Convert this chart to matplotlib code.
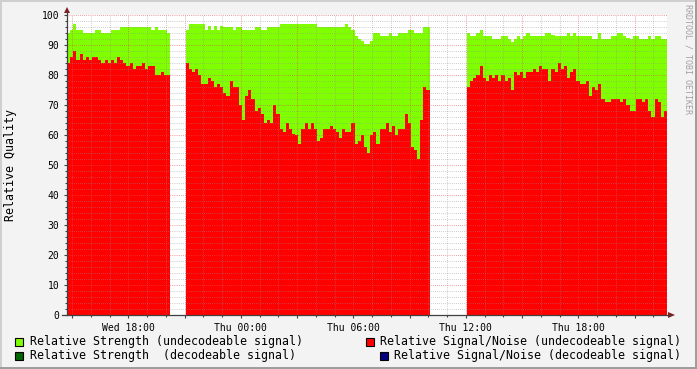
import numpy as np
import matplotlib
matplotlib.use("Agg")
import matplotlib.pyplot as plt
from matplotlib.patches import Rectangle, Polygon
from matplotlib.lines import Line2D
from matplotlib.ticker import FixedLocator, MultipleLocator

# ---------------- data (10-minute steps) ----------------
STEP_MIN = 10
TOTAL_MIN = 1920          # 32 hours shown
WED18_OFFSET = 196        # minutes from chart start to "Wed 18:00"
SEG_STARTS = [0, 38, 128] # start step index of each data segment

seg1_strength = [94, 95, 97, 95, 95, 94, 94, 94, 94, 95, 95, 94, 94, 94, 95, 95, 95,
                 96, 96, 96, 96, 96, 96, 96, 96, 96, 96, 95, 96, 95, 95, 95, 94]
seg1_snr = [84, 86, 88, 85, 87, 85, 86, 85, 86, 86, 85, 84, 85, 84, 85, 84, 86,
            85, 84, 83, 84, 82, 83, 83, 84, 82, 83, 83, 80, 80, 81, 80, 80]

seg2_strength = [95, 97, 97, 97, 97, 97, 95, 96.5, 95, 96.5, 95, 96.5, 96, 96, 96, 95,
                 96, 96, 95, 95, 95, 95, 96, 96, 95, 95, 96, 96, 96, 96, 97, 97,
                 97, 97, 97, 97, 97, 97, 97, 97, 97, 97, 96, 96, 96, 96, 96, 96,
                 96, 96, 96, 97, 96, 95, 93, 92, 91.5, 90.5, 90.5, 91.5, 94, 94,
                 93, 93, 93, 94, 93, 93, 94, 94, 94, 95, 95, 94, 94, 94, 96, 96]
seg2_snr = [84, 82, 81, 82, 80, 77, 77, 79, 78, 76, 77, 76, 74, 73, 78, 76,
            76, 70, 65, 73, 75, 72, 68, 69, 67, 64, 65, 64, 70, 67, 62, 61,
            64, 62, 60.5, 60, 57, 62, 64, 62, 64, 62, 58, 59, 62, 62, 63, 62,
            61, 59, 62, 61, 61, 64, 57, 58, 60, 56, 54, 60, 61, 57,
            62, 62, 64, 61, 63, 60, 62, 62, 67, 64, 56, 55, 52, 65, 76, 75]

seg3_strength = [94, 93, 93, 94, 95, 93, 93, 93, 92, 92, 92, 93, 93, 92, 91, 92,
                 93, 92, 93, 94, 93, 93, 93, 93, 93, 94, 94, 93.5, 93, 93, 93, 93,
                 94, 93, 94, 93, 93, 93, 93, 93, 92, 92, 94, 92, 92, 92, 93, 93,
                 94, 94, 93, 92.5, 92, 93, 93, 92, 92, 92, 93, 92, 93, 93, 92, 92]
seg3_snr = [76, 78, 79, 80, 83, 79, 78, 80, 79, 80, 78, 80, 78, 79, 75, 81,
            80, 81, 79, 81, 81, 82, 81, 83, 82, 82, 78, 82, 81, 84, 82, 83,
            79, 81, 82, 78, 77, 77, 78, 73, 76, 75, 77, 72, 71, 71, 72, 72,
            72, 71, 72, 70, 68, 68, 72, 72, 71, 72, 68, 66, 72, 71, 66, 68]

strength_segments = [seg1_strength, seg2_strength, seg3_strength]
snr_segments = [seg1_snr, seg2_snr, seg3_snr]

x_tick_labels = ["Wed 18:00", "Thu 00:00", "Thu 06:00", "Thu 12:00", "Thu 18:00"]
legend_labels = ["Relative Strength (undecodeable signal)",
                 "Relative Strength  (decodeable signal)",
                 "Relative Signal/Noise (undecodeable signal)",
                 "Relative Signal/Noise (decodeable signal)"]
legend_colors = ["#7FFF00", "#006400", "#FF0000", "#000080"]

# ---------------- figure ----------------
W, H = 697, 369
BG = "#F3F3F3"
fig = plt.figure(figsize=(W / 100, H / 100), dpi=100, facecolor=BG)

def fx(px):
    return px / W

def fy(py):
    return 1 - py / H

ax = fig.add_axes([fx(67), fy(315), 600 / W, 300 / H])
ax.set_facecolor("white")
ax.set_xlim(0, TOTAL_MIN)
ax.set_ylim(0, 100)

for start, st, sn in zip(SEG_STARTS, strength_segments, snr_segments):
    edges = (start + np.arange(len(st) + 1)) * STEP_MIN
    ax.stairs(st, edges, fill=True, color="#7FFF00", linewidth=0, baseline=0, zorder=1)
    ax.stairs(sn, edges, fill=True, color="#FF0000", linewidth=0, baseline=0, zorder=1.1)

for s in ax.spines.values():
    s.set_visible(False)

# ticks
first_major = WED18_OFFSET % 180
major_x = np.arange(first_major, TOTAL_MIN + 1, 180)
minor_x = np.arange(WED18_OFFSET % 60, TOTAL_MIN + 1, 60)
label_map = {WED18_OFFSET + 360 * i: lab for i, lab in enumerate(x_tick_labels)}
ax.xaxis.set_major_locator(FixedLocator(major_x))
ax.xaxis.set_minor_locator(FixedLocator(minor_x))
ax.set_xticklabels([label_map.get(int(v), "") for v in major_x])
ax.yaxis.set_major_locator(MultipleLocator(10))
ax.yaxis.set_minor_locator(MultipleLocator(2))

mono = "DejaVu Sans Mono"
ax.tick_params(axis="both", which="major", direction="out", length=2.5, width=0.8,
               color="#404040", labelsize=7, pad=3)
ax.tick_params(axis="both", which="minor", direction="out", length=1.2, width=0.8,
               color="#404040")
for lab in ax.get_xticklabels() + ax.get_yticklabels():
    lab.set_fontfamily(mono)

ax.set_axisbelow(False)
ax.grid(which="minor", color="#8F8F8F", alpha=0.6, linewidth=0.72,
        linestyle=(0, (0.7, 1.4)))
ax.grid(which="major", color="#DE5050", alpha=0.75, linewidth=0.72,
        linestyle=(0, (0.7, 1.4)))

# axis lines with arrows
axis_col = "#404040"
arrow_col = "#7F1F1F"
fig.add_artist(Line2D([fx(67), fx(67)], [fy(315), fy(12)], color=axis_col, lw=0.9))
fig.add_artist(Line2D([fx(62), fx(670)], [fy(315), fy(315)], color=axis_col, lw=0.9))
fig.add_artist(Polygon([[fx(64), fy(13)], [fx(70), fy(13)], [fx(67), fy(7)]],
                       closed=True, color=arrow_col, lw=0))
fig.add_artist(Polygon([[fx(668), fy(312)], [fx(668), fy(318)], [fx(675), fy(315)]],
                       closed=True, color=arrow_col, lw=0))

# y label
fig.text(fx(11), fy(165), "Relative Quality", rotation=90, ha="center", va="center",
         fontsize=8.4, family=mono, color="black")

# watermark
fig.text(fx(688), fy(4), "RRDTOOL / TOBI OETIKER", rotation=270, ha="center", va="top",
         fontsize=6, family=mono, color="#A0A0A0")

# legend
leg_pos = [(15, 30, 341.5), (15, 30, 355.5), (366, 380, 341.5), (380, 394, 355.5)]
for (sqx, tx, ty), lab, col in zip(leg_pos, legend_labels, legend_colors):
    fig.add_artist(Rectangle((fx(sqx), fy(ty + 4.5)), 8 / W, 8 / H, facecolor=col,
                             edgecolor="black", linewidth=0.8))
    fig.text(fx(tx), fy(ty), lab, ha="left", va="center", fontsize=8.4, family=mono,
             color="black")

# figure border (3D shade)
fig.add_artist(Rectangle((0, fy(2)), 1, 2 / H, facecolor="#CFCFCF", lw=0))
fig.add_artist(Rectangle((0, 0), 2 / W, 1, facecolor="#CFCFCF", lw=0))
fig.add_artist(Rectangle((0, 0), 1, 2 / H, facecolor="#9E9E9E", lw=0))
fig.add_artist(Rectangle((fx(695), 0), 2 / W, 1, facecolor="#9E9E9E", lw=0))

fig.savefig("out.png", dpi=100, facecolor=BG)
